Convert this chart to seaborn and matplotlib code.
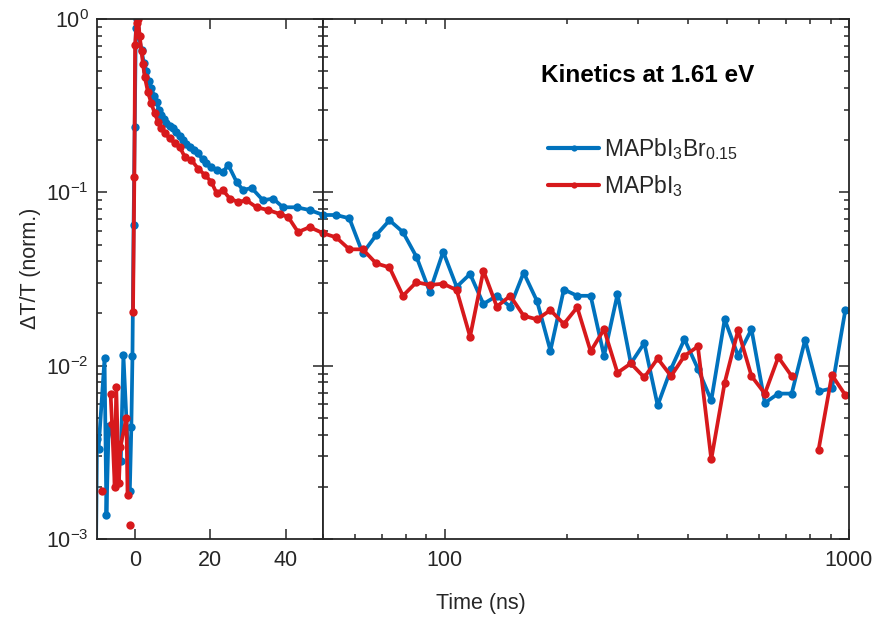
import numpy as np
import pandas as pd
import matplotlib
matplotlib.use('Agg')
import matplotlib.pyplot as plt
import seaborn as sns
from matplotlib.ticker import (FixedLocator, FixedFormatter, LogLocator,
                               NullFormatter, LogFormatterSciNotation, NullLocator)
from matplotlib.lines import Line2D

# ---------------- data ----------------
time_lin_blue = [-10.3, -10.0, -9.6, -8.0, -7.5, -6.9, -6.3, -5.0, -3.7, -3.0, -1.3, -0.9,
                 -0.6, -0.3, 0.0, 0.3, 0.7, 1.1, 1.8, 2.4, 3.1, 3.7, 4.4, 5.1, 5.8, 6.4,
                 7.1, 7.8, 8.4, 9.3, 10.2, 11.0, 12.0, 12.8, 13.7, 14.6, 15.7, 16.8, 18.0,
                 19.0, 20.3, 21.7, 23.4, 24.8, 27.0, 28.7, 31.0, 34.0, 36.7, 39.3, 42.9,
                 46.4, 50.0]
dtt_lin_blue = [0.0007, 0.0038, 0.0033, 0.011, 0.00137, 0.0045, 0.0044, 0.0030, 0.0028,
                0.0115, 0.0019, 0.0044, 0.0113, 0.065, 0.238, 0.89, 1.0, 0.80, 0.66, 0.56,
                0.50, 0.44, 0.40, 0.36, 0.33, 0.30, 0.28, 0.265, 0.25, 0.24, 0.234, 0.224,
                0.21, 0.20, 0.19, 0.183, 0.175, 0.168, 0.155, 0.147, 0.140, 0.135, 0.131,
                0.144, 0.115, 0.103, 0.106, 0.090, 0.092, 0.082, 0.082, 0.079, 0.074]

time_lin_red = [-8.6, -7.5, -6.4, -6.0, -5.3, -4.9, -4.2, -3.8, -2.2, -1.9, -1.5, -1.15,
                -0.8, -0.45, -0.1, 0.1, 0.5, 0.9, 1.3, 1.8, 2.2, 2.65, 3.5, 4.4, 5.3, 6.2,
                7.1, 8.0, 9.3, 10.6, 11.9, 13.3, 15.0, 16.8, 18.6, 20.3, 21.7, 23.4, 25.2,
                27.4, 29.6, 32.3, 35.4, 38.5, 40.7, 43.3, 46.4, 50.0]
dtt_lin_red = [0.0019, np.nan, 0.0069, 0.0046, 0.0020, 0.0075, 0.0021, 0.0034, 0.0050,
               0.0018, np.nan, 0.0012, np.nan, 0.0205, 0.123, 0.71, 0.95, 1.0, 0.80, 0.65,
               0.55, 0.465, 0.38, 0.326, 0.286, 0.255, 0.234, 0.219, 0.205, 0.192, 0.183,
               0.160, 0.154, 0.137, 0.126, 0.115, 0.099, 0.103, 0.092, 0.088, 0.090, 0.082,
               0.079, 0.075, 0.072, 0.059, 0.063, 0.058]

time_log = [53.8, 58.0, 62.6, 67.6, 72.9, 78.7, 85.0, 91.7, 99.0, 106.9, 115.4, 124.5,
            134.4, 145.1, 156.6, 169.0, 182.4, 196.9, 212.5, 229.4, 247.6, 267.3, 288.5,
            311.4, 336.1, 362.8, 391.6, 422.7, 456.2, 492.4, 531.5, 573.7, 619.2, 668.4,
            721.4, 778.7, 840.5, 907.2, 979.2]
dtt_log_blue = [0.074, 0.0708, 0.0445, 0.0567, 0.069, 0.059, 0.0425, 0.0267, 0.0454,
                0.0285, 0.0338, 0.0227, 0.0253, 0.0219, 0.0344, 0.0236, 0.0122, 0.0275,
                0.0253, 0.0253, 0.0114, 0.0258, 0.0103, 0.0135, 0.0059, 0.0096, 0.0142,
                0.0096, 0.0063, 0.0185, 0.0114, 0.0162, 0.0061, 0.0069, 0.0069, 0.0141,
                0.0071, 0.0074, 0.0209]
dtt_log_red = [0.055, 0.0469, 0.0469, 0.0389, 0.0369, 0.0253, 0.0303, 0.0292, 0.0297,
               0.0273, 0.0147, 0.0353, 0.0219, 0.0253, 0.0194, 0.0185, 0.0209, 0.0174,
               0.0217, 0.0121, 0.0162, 0.0091, 0.0103, 0.00855, 0.0110, 0.0087, 0.0114,
               0.0129, 0.00288, 0.00797, 0.0160, 0.0087, 0.0069, 0.0112, 0.0087, np.nan,
               0.00326, 0.00883, 0.00677]

series_names = ['MAPbI3Br0.15', 'MAPbI3']
legend_labels = [r'MAPbI$_3$Br$_{0.15}$', r'MAPbI$_3$']
colors = ['#0072BD', '#D7191C']
x_break = 50
x_min, x_max = -10, 1000
y_min, y_max = 1e-3, 1.0
lin_ticks = [0, 20, 40]
log_ticks = [100, 1000]


def build(name, t, v):
    df = pd.DataFrame({'time': t, 'dtt': v})
    df['seg'] = df['dtt'].isna().cumsum()
    df = df.dropna().copy()
    df['series'] = name
    df['seg'] = name + '_' + df['seg'].astype(str)
    return df


data = pd.concat([
    build(series_names[0], time_lin_blue + time_log, dtt_lin_blue + dtt_log_blue),
    build(series_names[1], time_lin_red + time_log, dtt_lin_red + dtt_log_red),
], ignore_index=True)

# ---------------- style ----------------
sns.set_theme(style='white')
plt.rcParams['font.family'] = ['Liberation Sans', 'DejaVu Sans']
plt.rcParams['mathtext.fontset'] = 'custom'
plt.rcParams['mathtext.rm'] = 'Liberation Sans'
plt.rcParams['mathtext.it'] = 'Liberation Sans:italic'
plt.rcParams['mathtext.bf'] = 'Liberation Sans:bold'
plt.rcParams['mathtext.default'] = 'regular'

W, H = 877, 623
fig = plt.figure(figsize=(W / 100, H / 100), dpi=100)
L, R, T, B, BRK = 97, 849, 19, 539, 323.3
axL = fig.add_axes([L / W, (H - B) / H, (BRK - L) / W, (B - T) / H])
axR = fig.add_axes([BRK / W, (H - B) / H, (R - BRK) / W, (B - T) / H], sharey=axL)

pal = dict(zip(series_names, colors))
axL.set_yscale('log')
axR.set_xscale('log')

line_kw = dict(x='time', y='dtt', hue='series', units='seg', estimator=None,
               palette=pal, marker='o', markersize=6, markeredgewidth=0,
               linewidth=2.7, legend=False)
sns.lineplot(data=data[data['time'] <= x_break], ax=axL, **line_kw)
sns.lineplot(data=data[data['time'] >= x_break], ax=axR, **line_kw)

axL.set_xlim(x_min, x_break)
axR.set_xlim(x_break, x_max)
axL.set_ylim(y_min, y_max)

axis_col = '#262626'
for ax in (axL, axR):
    for s in ax.spines.values():
        s.set_color(axis_col)
        s.set_linewidth(1.3)
    ax.tick_params(which='both', direction='in', top=True, bottom=True, left=True,
                   right=True, color=axis_col, width=1.1, labelsize=15.5,
                   labelcolor='#262626')
    ax.tick_params(which='major', length=7)
    ax.tick_params(which='minor', length=3.5)
    ax.set_xlabel('')
    ax.set_ylabel('')
    ax.grid(False)

axL.yaxis.set_major_locator(LogLocator(base=10, numticks=10))
axL.yaxis.set_major_formatter(LogFormatterSciNotation())
axL.yaxis.set_minor_locator(LogLocator(base=10, subs=np.arange(2, 10), numticks=20))
axL.yaxis.set_minor_formatter(NullFormatter())
axL.xaxis.set_major_locator(FixedLocator(lin_ticks))
axL.xaxis.set_minor_locator(NullLocator())
axL.tick_params(axis='y', pad=6)
axL.tick_params(axis='x', pad=8)

axR.xaxis.set_major_locator(FixedLocator(log_ticks))
axR.xaxis.set_major_formatter(FixedFormatter([str(v) for v in log_ticks]))
axR.xaxis.set_minor_locator(LogLocator(base=10, subs=np.arange(2, 10), numticks=20))
axR.xaxis.set_minor_formatter(NullFormatter())
axR.tick_params(axis='y', labelleft=False)
axR.tick_params(axis='x', pad=8)

fig.text(481 / W, 1 - 604 / H, 'Time (ns)', ha='center', va='center', fontsize=15.5,
         color='#262626')
fig.text(31 / W, 1 - 268 / H, 'ΔT/T (norm.)', ha='center', va='center', rotation=90,
         fontsize=15.5, color='#262626')

axR.text(0.616, 0.892, 'Kinetics at 1.61 eV', transform=axR.transAxes, ha='center',
         va='center', fontsize=17.5, fontweight='bold', color='black')

handles = [Line2D([], [], color=c, lw=3.0, marker='o', markersize=4.5, markeredgewidth=0)
           for c in colors]
axR.legend(handles, legend_labels, loc='upper left', bbox_to_anchor=(0.428, 0.775),
           frameon=False, fontsize=16.5, handlelength=2.2, handletextpad=0.25,
           labelspacing=0.5, borderpad=0, borderaxespad=0)

fig.savefig('out.png', dpi=100)
